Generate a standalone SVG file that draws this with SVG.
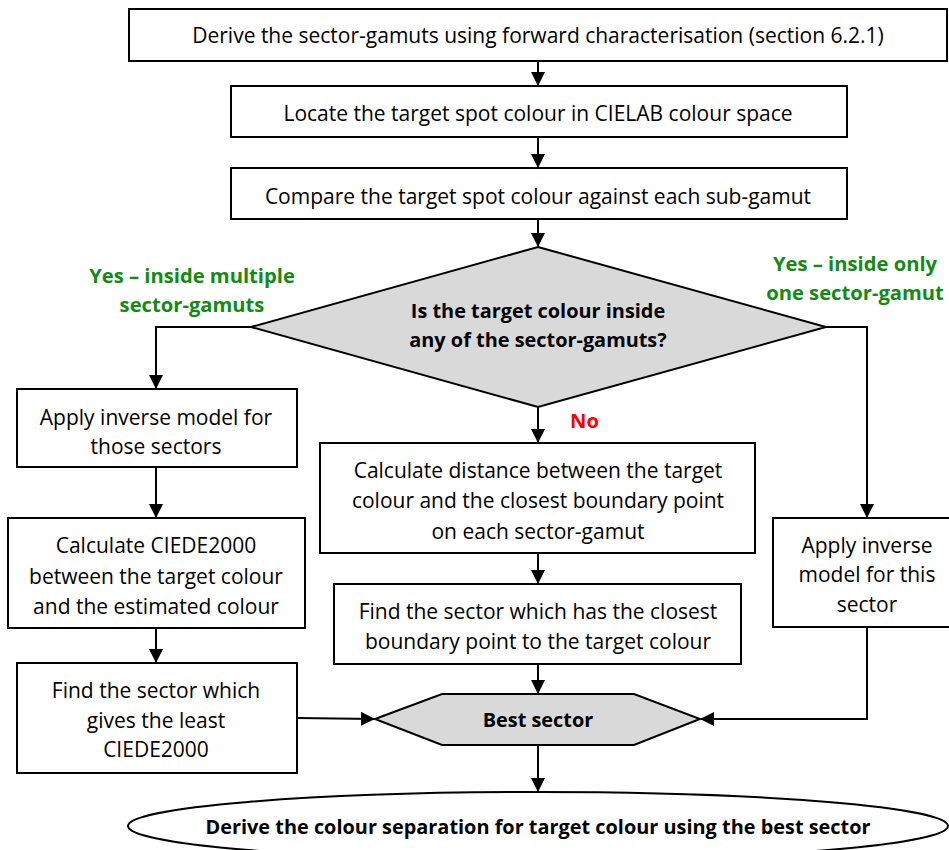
<svg xmlns="http://www.w3.org/2000/svg" width="949" height="850" viewBox="0 0 949 850">
<defs>
<marker id="ah" markerWidth="14" markerHeight="14" refX="13" refY="7" orient="auto" markerUnits="userSpaceOnUse" viewBox="0 0 14 14">
<path d="M0,0 L14,7 L0,14 z" fill="#000"/>
</marker>
<style>
.box{fill:#fff;stroke:#000;stroke-width:2}
.shape{fill:#d9d9d9;stroke:#000;stroke-width:2}
.t{font-family:"Open Sans","Noto Sans",sans-serif;font-size:21px;fill:#000;text-anchor:middle}
.b{font-weight:bold;font-size:19.9px}
.g{fill:#138a13;font-weight:bold;font-size:20.2px}
.r{fill:#ff0000;font-weight:bold;font-size:20.2px;text-anchor:start}
.c{fill:none;stroke:#000;stroke-width:2}
</style>
</defs>
<rect width="949" height="850" fill="#fff"/>
<g id="connectors">
<path class="c" d="M538,61 V85" marker-end="url(#ah)"/>
<path class="c" d="M538,137 V167" marker-end="url(#ah)"/>
<path class="c" d="M538,219 V246" marker-end="url(#ah)"/>
<path class="c" d="M251,327 H156 V388" marker-end="url(#ah)"/>
<path class="c" d="M156,467 V517" marker-end="url(#ah)"/>
<path class="c" d="M156,628 V662" marker-end="url(#ah)"/>
<path class="c" d="M297,718 L374,719" marker-end="url(#ah)"/>
<path class="c" d="M538,407 V442" marker-end="url(#ah)"/>
<path class="c" d="M538,553 V583" marker-end="url(#ah)"/>
<path class="c" d="M538,664 V693" marker-end="url(#ah)"/>
<path class="c" d="M826,327 H867 V517" marker-end="url(#ah)"/>
<path class="c" d="M867,627 V719 H701" marker-end="url(#ah)"/>
<path class="c" d="M538,745 V791" marker-end="url(#ah)"/>
</g>
<g id="n1">
<rect class="box" x="129" y="9" width="818" height="52"/>
<text class="t" x="538" y="43">Derive the sector-gamuts using forward characterisation (section 6.2.1)</text>
</g>
<g id="n2">
<rect class="box" x="231" y="86" width="616" height="51"/>
<text class="t" x="538" y="121">Locate the target spot colour in CIELAB colour space</text>
</g>
<g id="n3">
<rect class="box" x="231" y="168" width="616" height="51"/>
<text class="t" x="538" y="204">Compare the target spot colour against each sub-gamut</text>
</g>
<g id="n4">
<polygon class="shape" points="538,247 826,327 538,407 251,327"/>
<text class="t b" x="538" y="318">Is the target colour inside</text>
<text class="t b" x="538" y="347">any of the sector-gamuts?</text>
</g>
<g id="labels">
<text class="t g" x="192" y="283">Yes – inside multiple</text>
<text class="t g" x="192" y="312">sector-gamuts</text>
<text class="t g" x="855" y="271">Yes – inside only</text>
<text class="t g" x="855" y="300">one sector-gamut</text>
<text class="t r" x="570" y="428">No</text>
</g>
<g id="n5">
<rect class="box" x="17" y="389" width="280" height="78"/>
<text class="t" x="156" y="425">Apply inverse model for</text>
<text class="t" x="156" y="454">those sectors</text>
</g>
<g id="n6">
<rect class="box" x="8" y="518" width="297" height="110"/>
<text class="t" x="156" y="553">Calculate CIEDE2000</text>
<text class="t" x="156" y="584">between the target colour</text>
<text class="t" x="156" y="614">and the estimated colour</text>
</g>
<g id="n7">
<rect class="box" x="17" y="663" width="280" height="110"/>
<text class="t" x="156" y="698">Find the sector which</text>
<text class="t" x="156" y="728">gives the least</text>
<text class="t" x="156" y="757">CIEDE2000</text>
</g>
<g id="n8">
<rect class="box" x="320" y="443" width="435" height="110"/>
<text class="t" x="538" y="478">Calculate distance between the target</text>
<text class="t" x="538" y="508">colour and the closest boundary point</text>
<text class="t" x="538" y="539">on each sector-gamut</text>
</g>
<g id="n9">
<rect class="box" x="334" y="584" width="407" height="80"/>
<text class="t" x="538" y="619">Find the sector which has the closest</text>
<text class="t" x="538" y="649">boundary point to the target colour</text>
</g>
<g id="n10">
<rect class="box" x="773" y="518" width="180" height="109"/>
<text class="t" x="867" y="553">Apply inverse</text>
<text class="t" x="867" y="582">model for this</text>
<text class="t" x="867" y="612">sector</text>
</g>
<g id="n11">
<polygon class="shape" points="375,719 442,694 634,694 700,719 634,745 442,745"/>
<text class="t b" x="538" y="727">Best sector</text>
</g>
<g id="n12">
<ellipse class="box" cx="538" cy="826" rx="410" ry="34"/>
<text class="t b" x="538" y="834">Derive the colour separation for target colour using the best sector</text>
</g>
</svg>
